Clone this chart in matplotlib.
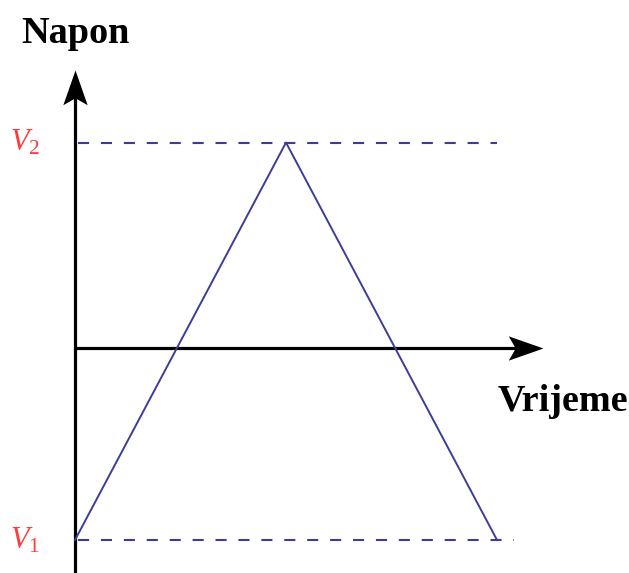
import matplotlib.pyplot as plt
from matplotlib.path import Path
from matplotlib.markers import MarkerStyle
from matplotlib.transforms import Affine2D

plt.rcParams['mathtext.fontset'] = 'custom'
plt.rcParams['mathtext.rm'] = 'Liberation Serif'
plt.rcParams['mathtext.it'] = 'Liberation Serif:italic'
plt.rcParams['lines.scale_dashes'] = False

# --------------------DATA-------------------- #

V1 = -1.0
V2 = 1.07
t_wave = [0.0, 1.0, 2.0]
v_wave = [V1, V2, V1]

level_names = [r'$V_2$', r'$V_1$']
level_values = [V2, V1]
level_ends = [2.0, 2.08]

x_label = "Vrijeme"
y_label = "Napon"

waveColor = "#3d3d99"
labelColor = "#ff3b3b"

# --------------------FIGURE-------------------- #

fig = plt.figure(figsize=(6.29, 5.73), dpi=100)
ax = fig.add_axes([0, 0, 1, 1])
ax.set_xlim(-0.3555, 2.6256)
ax.set_ylim(-1.172, 1.8125)
ax.axis("off")

# swept arrow head, tip at the origin of the marker
headPath = Path([(0, 0), (-1, 0.35), (-0.8, 0), (-1, -0.35), (0, 0)],
                [Path.MOVETO, Path.LINETO, Path.LINETO, Path.LINETO, Path.CLOSEPOLY])
headRight = MarkerStyle(headPath)
headUp = MarkerStyle(headPath, transform=Affine2D().rotate_deg(90))

xTip = 2.218
yTip = 1.448

# axes
ax.plot([0, xTip - 0.1], [0, 0], color="black", lw=2.3, solid_capstyle="butt")
ax.plot([0, 0], [-1.2, yTip - 0.1], color="black", lw=2.3, solid_capstyle="butt")
ax.plot([xTip], [0], marker=headRight, markersize=50, color="black", mew=0)
ax.plot([0], [yTip], marker=headUp, markersize=50, color="black", mew=0)

# dashed levels
for name, val, end in zip(level_names, level_values, level_ends):
    ax.plot([0.015, end], [val, val], color=waveColor, lw=1.5, dashes=(8, 8.5))
    ax.text(-0.166, val, name, color=labelColor, fontsize=22, ha="right", va="center")

# triangle wave
ax.plot(t_wave, v_wave, color=waveColor, lw=1.4)

ax.text(0, 1.73, y_label, fontsize=27.5, fontweight="bold", family="Liberation Serif",
        ha="center", va="top")
ax.text(2.62, -0.33, x_label, fontsize=27.5, fontweight="bold", family="Liberation Serif",
        ha="right", va="baseline")

fig.savefig("out.png", dpi=100)
